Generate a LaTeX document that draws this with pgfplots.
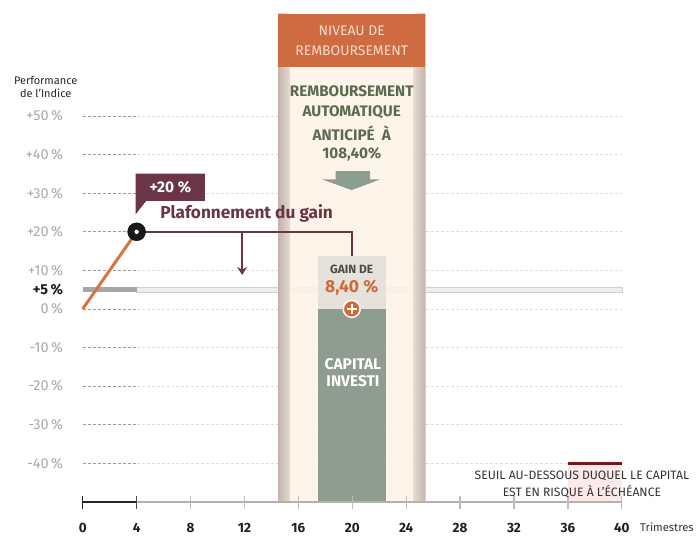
\documentclass[border=0pt]{standalone}
\usepackage{pgfplots}
\pgfplotsset{compat=1.18}
\usetikzlibrary{arrows.meta}
\usepackage{fontspec}
\setmainfont{Fira Sans}
\definecolor{hdr}{HTML}{CE6B40}
\definecolor{hdrtxt}{HTML}{F8DCCB}
\definecolor{cream}{HTML}{FDF3E7}
\definecolor{edge}{HTML}{D6C6BB}
\definecolor{greentxt}{HTML}{5B6B4F}
\definecolor{sage}{HTML}{8F9D90}
\definecolor{gainbox}{HTML}{E5E2DB}
\definecolor{gaintxt}{HTML}{4A4A4A}
\definecolor{gainor}{HTML}{D0693A}
\definecolor{maroon}{HTML}{6B3447}
\definecolor{oline}{HTML}{D87342}
\definecolor{ticklab}{HTML}{A8A8A8}
\definecolor{griddark}{HTML}{9A9A9A}
\definecolor{gridlight}{HTML}{DEDEDE}
\definecolor{redl}{HTML}{7D1518}
\definecolor{pinkf}{HTML}{FCEAEA}
\newcommand{\fs}[1]{\fontsize{#1}{#1}\selectfont}
\begin{document}
\begin{tikzpicture}
\begin{axis}[scale only axis, width=697pt, height=536pt,
  xmin=-6.137, xmax=45.4, ymin=-58.4, ymax=80.1,
  hide axis, clip=false]
\path (axis cs:-6.137,-58.4) rectangle (axis cs:45.4,80.1);
% grid lines
\foreach \vv in {50,40,30,20,10,0,-10,-20,-30,-40}{
  \edef\temp{\noexpand\addplot[griddark, line width=0.8pt, dash pattern=on 3pt off 2pt, forget plot] coordinates {(0,\vv) (4,\vv)};
  \noexpand\addplot[gridlight, line width=0.8pt, dash pattern=on 3pt off 2pt, forget plot] coordinates {(4,\vv) (40,\vv)};}
  \temp
}
% +5% bar
\addplot[fill=black!7, draw=black!18, line width=0.6pt] coordinates {(4,4.35) (40,4.35) (40,5.65) (4,5.65)} -- cycle;
\addplot[fill=black!35, draw=none] coordinates {(0,4.35) (4,4.35) (4,5.65) (0,5.65)} -- cycle;
% threshold zone
\addplot[fill=pinkf, draw=none] coordinates {(36,-50) (40,-50) (40,-40) (36,-40)} -- cycle;
\addplot[redl, line width=3pt] coordinates {(36,-40) (40,-40)};
% column
\addplot[fill=cream, draw=none, fill opacity=0.88] coordinates {(14.49,-50) (25.43,-50) (25.43,76.5) (14.49,76.5)} -- cycle;
\fill[left color=edge, right color=cream, opacity=0.9] (axis cs:14.49,-50) rectangle (axis cs:15.4,76.5);
\fill[left color=cream, right color=edge, opacity=0.9] (axis cs:24.5,-50) rectangle (axis cs:25.43,76.5);
\addplot[fill=hdr, draw=none] coordinates {(14.49,62.8) (25.43,62.8) (25.43,76.5) (14.49,76.5)} -- cycle;
\node[text=hdrtxt, align=center, font=\fs{14}] at (axis cs:19.96,72.1) {NIVEAU DE};
\node[text=hdrtxt, align=center, font=\fs{14}] at (axis cs:19.96,66.9) {REMBOURSEMENT};
\node[text=greentxt, font=\bfseries\fs{15.3}] at (axis cs:19.96,56.4) {REMBOURSEMENT};
\node[text=greentxt, font=\bfseries\fs{15.3}] at (axis cs:19.96,51.0) {AUTOMATIQUE};
\node[text=greentxt, font=\bfseries\fs{15.3}] at (axis cs:19.96,45.6) {ANTICIPÉ\ \ À};
\node[text=greentxt, font=\bfseries\fs{15.3}] at (axis cs:19.96,40.1) {108,40\%};
% arrow
\addplot[fill=sage, draw=none] coordinates {(18.76,35.7) (21.33,35.7) (21.33,33.6) (22.08,33.6) (19.96,30.8) (17.75,33.6) (18.76,33.6)} -- cycle;
% gain box and capital bar
\addplot[fill=gainbox, draw=none] coordinates {(17.45,0) (22.48,0) (22.48,13.8) (17.45,13.8)} -- cycle;
\addplot[fill=sage, draw=none] coordinates {(17.45,-50) (22.48,-50) (22.48,0) (17.45,0)} -- cycle;
\node[text=gaintxt, font=\bfseries\fs{12}] at (axis cs:19.96,10.3) {GAIN DE};
\node[text=gainor, font=\bfseries\fs{17.5}] at (axis cs:19.96,5.4) {8,40 \%};
\addplot[only marks, mark=*, mark size=8.5pt, mark options={fill=gainor, draw=white, line width=1.5pt}] coordinates {(19.96,0)};
\addplot[only marks, mark=+, mark size=5pt, mark options={draw=white, line width=2pt}] coordinates {(19.96,0)};
\node[text=white, font=\bfseries\fs{15.5}] at (axis cs:20.05,-14.3) {CAPITAL};
\node[text=white, font=\bfseries\fs{15.5}] at (axis cs:20.05,-18.7) {INVESTI};
% orange index line
\addplot[oline, line width=3pt] coordinates {(0,0) (4,20)};
% plafonnement
\addplot[maroon, line width=1.8pt] coordinates {(4,20) (19.96,20) (19.96,13.8)};
\addplot[maroon, line width=1.5pt, -{Stealth[length=8pt,width=10pt]}] coordinates {(11.83,20) (11.83,8.8)};
\node[anchor=west, text=maroon, font=\bfseries\fs{17.3}] at (axis cs:5.5,24.8) {Plafonnement du gain};
% callout
\addplot[fill=maroon, draw=none] coordinates {(3.92,28.0) (3.92,35.1) (9.07,35.1) (9.07,28.0) (4.71,28.0) (3.92,24.5)} -- cycle;
\node[text=white, font=\bfseries\fs{15.5}] at (axis cs:6.5,31.6) {+20 \%};
% marker
\addplot[only marks, mark=*, mark size=9pt, mark options={fill=black!90, draw=none}] coordinates {(4,20)};
\addplot[only marks, mark=*, mark size=2.6pt, mark options={fill=white, draw=none}] coordinates {(4,20)};
% x axis
\addplot[gridlight!80!black, line width=2.5pt] coordinates {(4,-50) (40,-50)};
\foreach \tt in {8,12,...,40}{
  \edef\temp{\noexpand\addplot[gridlight!85!black, line width=1.2pt, forget plot] coordinates {(\tt,-48.5) (\tt,-52)};}
  \temp
}
\addplot[black!85, line width=2pt] coordinates {(0,-50) (4,-50)};
\addplot[black!85, line width=1.2pt] coordinates {(0,-48.5) (0,-52)};
\addplot[black!70, line width=1.2pt] coordinates {(4,-48.5) (4,-52)};
\foreach \tt in {0,4,...,40}{
  \edef\temp{\noexpand\node[text=black!88, font=\noexpand\bfseries\noexpand\fs{13.5}] at (axis cs:\tt,-56.85) {\tt};}
  \temp
}
\node[anchor=west, text=black!80, font=\fs{11.3}] at (axis cs:41.1,-56.6) {Trimestres};
% y labels
\foreach \vv/\lab in {50/+50,40/+40,30/+30,20/+20,10/+10,0/0,-10/-10,-20/-20,-30/-30,-40/-40}{
  \edef\temp{\noexpand\node[anchor=east, text=ticklab, font=\noexpand\fs{14.5}] at (axis cs:-1.2,\vv) {\lab\noexpand\,\noexpand\%};}
  \temp
}
\node[anchor=east, text=black!90, font=\bfseries\fs{14.5}] at (axis cs:-1.2,5) {+5\,\%};
\node[align=center, text=black!85, font=\fs{11}, inner sep=0pt] at (axis cs:-2.75,57.5) {Performance\\[2pt]de l’Indice};
% threshold label
\node[align=center, text=black!80, font=\fs{12.2}, inner sep=0pt] at (axis cs:37.04,-43.4) {SEUIL AU-DESSOUS DUQUEL LE CAPITAL};
\node[align=center, text=black!80, font=\fs{12.2}, inner sep=0pt] at (axis cs:37.04,-47.3) {EST EN RISQUE À L’ÉCHÉANCE};
\end{axis}
\end{tikzpicture}
\end{document}
